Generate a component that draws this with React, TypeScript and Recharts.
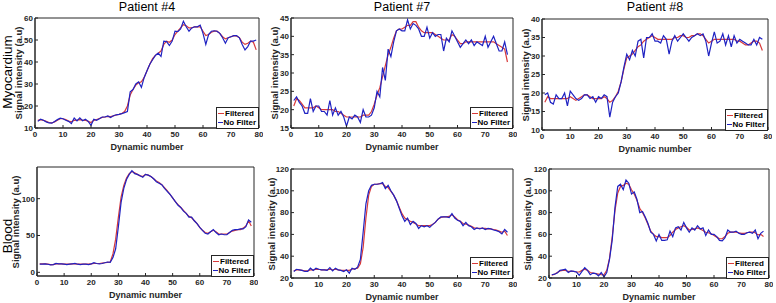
import React from "react";
import { LineChart, Line, XAxis, YAxis, ReferenceArea, Legend } from "recharts";

const FONT = '"Liberation Sans", Arial, Helvetica, sans-serif';
const RED = "#d83a3a";
const BLUE = "#1f22c2";
const INK = "#262626";

const xTicks = [0, 10, 20, 30, 40, 50, 60, 70, 80];
const titles = ["Patient #4", "Patient #7", "Patient #8"];
const rowLabels = ["Myocardium", "Blood"];
const seriesNames = ["Filtered", "No Filter"];

// Patient #4, myocardium
const p4MyoFiltered = [
  13.5, 13.8, 13.5, 13, 12.5, 12.3, 12.8, 13.5, 14.2, 14.2,
  13.8, 13.2, 12.8, 13.5, 13.6, 13.8, 13.6, 13.5, 13, 12.5,
  13.5, 13.8, 14.3, 14.8, 15, 15.3, 15.2, 15.5, 15.9, 16.2,
  16.6, 17.5, 20, 25, 27.5, 29.5, 30.5, 31, 33, 36,
  39, 41.5, 43, 44, 45, 48, 49.5, 49, 50, 52.5,
  54, 55.5, 57, 56.5, 55.5, 55.5, 56, 56, 56, 54,
  52, 52.5, 53.5, 54, 54, 53, 51.5, 50.5, 51, 51.5,
  52, 51.8, 51, 49, 48, 48.5, 49.5, 49, 45.5,
];
const p4MyoRaw = [
  13, 14, 13.5, 12.8, 12.3, 12.2, 13, 13.8, 14.5, 14.2,
  13.5, 13, 12, 14.5, 13.2, 14.6, 13.3, 14, 13, 11.2,
  14, 13.5, 14.2, 15, 15, 15.5, 14.8, 15.6, 16, 16.2,
  16.5, 17, 17.5, 26.5, 27.5, 30, 31, 28.5, 33, 36,
  39, 41, 43, 44, 42.5, 49.5, 49.3, 47.5, 49.5, 54,
  53.8, 55, 58.5, 56, 54, 55.5, 56, 56, 56.8, 53,
  48, 52.5, 54, 54.2, 54, 53, 51, 48.5, 51, 51.5,
  52, 52, 51, 48, 45.5, 47, 49.5, 49.5, 50,
];

// Patient #7, myocardium
const p7MyoFiltered = [
  21, 23, 22.5, 21.5, 20.5, 20.5, 20.5, 20.5, 21, 20.5,
  20, 20, 20, 20, 20, 19.5, 19.5, 19, 18.5, 18,
  18, 18, 18, 18, 18, 18.5, 18.5, 18.5, 19.5, 21.5,
  24, 26, 29, 32, 35, 37, 39.5, 41.5, 42, 42,
  42.5, 43, 43, 44, 44, 42.5, 41.5, 41, 41, 41,
  41, 40.5, 40, 39.5, 39, 39, 39, 40.5, 40, 39,
  38, 38, 38.5, 38.5, 38.5, 38.5, 38.5, 38.5, 38.5, 38.5,
  38.5, 38.5, 38.5, 38, 37.5, 37, 36.5, 33,
];
const p7MyoRaw = [
  22.5, 23.5, 22, 21, 19, 19, 23, 19.5, 21, 21,
  19.5, 19.5, 18.5, 22.5, 18.5, 20.5, 18.5, 19.5, 18, 15.5,
  18, 17.5, 18.5, 18, 16.5, 20, 18, 18, 18.5, 20.5,
  25, 23.5, 31.5, 28, 36.5, 34.5, 38.5, 41.5, 42, 41.5,
  41.5, 44.5, 42, 43.5, 43, 42, 40, 40, 42.5, 39.5,
  41, 40, 40.5, 40.5, 36, 39.5, 38.5, 41.5, 40, 38.5,
  37, 38, 39, 38, 39, 37.5, 38.5, 38, 37.5, 40,
  37, 38.5, 40, 38, 36, 36, 38.5, 35,
];

// Patient #8, myocardium
const p8MyoFiltered = [
  17.5, 19, 18.5, 18.5, 18.5, 18.5, 18.5, 18.5, 18.5, 19,
  18.5, 18, 18.5, 19, 19.5, 19.5, 19, 18.5, 18.5, 18.5,
  18.5, 19, 18.5, 17.5, 18, 19, 20.5, 23, 26.5, 29.5,
  30, 30.5, 31.5, 32.5, 33, 34, 34.5, 35, 35.5, 35,
  34.5, 34.5, 34.5, 34.5, 34.5, 34.5, 35, 35, 35.5, 35.5,
  35, 35, 35.5, 35.5, 36, 36, 35.5, 34.5, 33.5, 34,
  34.5, 34.5, 34.5, 34.5, 34.5, 34.5, 34.5, 34.5, 34, 34,
  33.5, 33, 33, 33.5, 34, 34, 33.5, 31.5,
];
const p8MyoRaw = [
  19.5, 20, 17.5, 17, 19.5, 18.5, 18.5, 20, 16.5, 20.5,
  19.5, 18.5, 18, 18.5, 19.5, 19.5, 18.5, 19, 17.5, 19,
  18.5, 19.5, 19, 13.5, 17.5, 19, 20, 23, 27, 30.5,
  29, 31.5, 30, 34, 34.5, 29.5, 35, 35, 36, 34,
  34, 33.5, 35.5, 34.5, 30.5, 34, 35.5, 34, 35, 36,
  35, 34, 35, 35.5, 36, 35.5, 36, 34, 30, 33.5,
  36.5, 33.5, 34, 36, 33, 35.5, 32.5, 35.5, 33.5, 34.5,
  34, 33.5, 33, 33, 34.5, 33, 35, 34.5,
];

// Patient #4, blood
const p4BloodFiltered = [
  11.5, 11.5, 11.5, 11, 10.5, 10.5, 11.5, 11.5, 11.5, 11,
  11, 11, 11.5, 11.5, 11, 11, 11, 11, 11, 11.5,
  12, 12, 12, 12.5, 13, 13.5, 14, 25, 45, 75,
  102, 118, 128, 134, 137, 135, 133, 131, 130, 133,
  132, 130, 127, 124, 122, 119, 115, 111, 106, 101,
  96, 92, 88, 84, 80, 76, 74, 70, 66, 61,
  57, 54, 53, 55, 57, 55, 52, 52, 52, 52,
  54, 56, 57, 58, 58, 60, 63, 70, 63,
];
const p4BloodRaw = [
  11, 11, 11.5, 11, 10, 10.5, 12, 11.5, 11.5, 11,
  10.5, 11, 11.5, 12, 11, 10.5, 11, 11, 10.5, 11.5,
  13, 12, 11.5, 12, 13, 14, 13.5, 20, 32, 62,
  95, 114, 126, 133, 138, 134, 133, 131, 129, 133,
  132, 130, 127, 123, 121, 119, 114, 110, 106, 101,
  96, 91, 88, 83, 80, 75, 75, 70, 66, 61,
  57, 53, 52, 55, 58, 54, 51, 52, 51, 51,
  54, 57, 58, 58, 59, 59, 62, 71, 68,
];

// Patient #7, blood
const p7BloodFiltered = [
  26.5, 27.5, 27.5, 27, 26.5, 26.5, 27.5, 27.5, 28, 28,
  27.5, 27.5, 27.5, 28, 27.5, 28, 27.5, 27, 27, 27,
  27, 28, 28.5, 29, 33, 48, 75, 96, 104, 106,
  106, 106.5, 106.5, 104, 103, 99.5, 96, 91, 85, 79,
  75, 73.5, 72, 71, 69.5, 68, 68, 68, 68, 68,
  69, 71, 74, 75.5, 76, 76, 76.5, 78, 76, 73.5,
  72, 70, 69.5, 68.5, 67.5, 66, 65.5, 65.5, 65.5, 65.5,
  65, 65, 64.5, 64, 63, 62, 63, 59,
];
const p7BloodRaw = [
  26, 28, 27.5, 27, 26, 26, 29, 27, 29, 28,
  27.5, 27.5, 27, 29.5, 26.5, 29, 27.5, 27, 26, 27.5,
  24.5, 29, 28, 30, 37, 62, 88, 100, 105, 106,
  106, 106.5, 107.5, 102, 105, 100, 96, 91, 84, 77,
  72, 75, 69, 72, 70, 65.5, 68, 67, 68, 66.5,
  69, 71, 74, 76, 76, 76, 75.5, 79, 75, 73,
  72, 68, 71, 68, 67, 64.5, 66, 65, 66, 64.5,
  65.5, 65, 64, 63.5, 62.5, 60.5, 64.5, 62,
];

// Patient #8, blood
const p8BloodFiltered = [
  22.5, 23.5, 25, 26.5, 27, 27, 26, 26, 26, 25.5,
  25.5, 27, 28, 27, 25, 24.5, 24, 23.5, 23, 23,
  27, 38, 58, 82, 98, 104, 105, 107, 106, 101,
  97, 91, 84, 80, 75, 69, 63, 60, 58, 58,
  57, 57, 57, 59, 62, 64.5, 66, 67, 68, 66.5,
  64, 64.5, 65, 66, 65, 63.5, 62, 61.5, 60.5, 59,
  57.5, 56, 56, 58, 61, 62, 62, 62, 61.5, 61,
  61, 61.5, 62, 62, 61.5, 59.5, 60, 58,
];
const p8BloodRaw = [
  23, 23.5, 24.5, 27, 27.5, 28, 25, 26.5, 26, 25.5,
  22.5, 26, 29.5, 27, 23, 24.5, 24, 22, 25, 21,
  25, 37, 55, 85, 104, 106, 101, 110, 107, 97,
  99, 92, 80, 81, 76, 70, 62, 60, 54, 60,
  54.5, 54.5, 55, 63, 58, 66, 67, 64, 71, 66,
  62, 66, 64, 68, 65, 66, 59, 64, 60, 60,
  58, 54.5, 54, 57, 64, 62, 62, 63, 61, 60,
  60, 61.5, 62, 61, 64, 56, 61, 63,
];

const panels = [
  { title: titles[0], filt: p4MyoFiltered, raw: p4MyoRaw, dom: [10, 60], yt: [10, 20, 30, 40, 50, 60], box: [35, 18, 224, 110], yl: 16 },
  { title: titles[1], filt: p7MyoFiltered, raw: p7MyoRaw, dom: [15, 45], yt: [15, 20, 25, 30, 35, 40, 45], box: [291, 18, 222, 110], yl: 16 },
  { title: titles[2], filt: p8MyoFiltered, raw: p8MyoRaw, dom: [10, 40], yt: [10, 15, 20, 25, 30, 35, 40], box: [542, 19, 226, 111], yl: 16 },
  { title: "", filt: p4BloodFiltered, raw: p4BloodRaw, dom: [-5, 143], yt: [0, 50, 100], box: [37, 167, 217, 109], yl: 21 },
  { title: "", filt: p7BloodFiltered, raw: p7BloodRaw, dom: [20, 120], yt: [20, 40, 60, 80, 100, 120], box: [291, 169, 222, 109], yl: 19 },
  { title: "", filt: p8BloodFiltered, raw: p8BloodRaw, dom: [20, 120], yt: [20, 40, 60, 80, 100, 120], box: [549, 169, 220, 109], yl: 21 },
];

const YW = 30;
const MT = 4;
const MR = 4;
const XH = 16;
const TICK = { fontSize: 8, fontWeight: 700, fill: INK, fontFamily: FONT };

const LegendBox = ({ payload }: any) => (
  <div style={{ border: `1px solid ${INK}`, background: "#fff", padding: "1px 2px 1px 1px", fontFamily: FONT, fontSize: 8, fontWeight: 700, lineHeight: "9px", color: "#000" }}>
    {(payload || []).map((p: any) => (
      <div key={p.value} style={{ display: "flex", alignItems: "center", whiteSpace: "nowrap" }}>
        <span style={{ display: "inline-block", width: 6, borderTop: `1.5px solid ${p.color}`, marginRight: 1 }} />
        {p.value}
      </div>
    ))}
  </div>
);

function Panel({ p }: { p: (typeof panels)[number] }) {
  const [left, top, w, h] = p.box;
  const data = p.raw.map((v, i) => ({ x: i + 1, raw: v, filt: p.filt[i] }));
  return (
    <>
      <div style={{ position: "absolute", left: left - YW, top: top - MT }}>
        <LineChart width={w + YW + MR} height={h + MT + XH} data={data} margin={{ top: MT, right: MR, left: 0, bottom: 0 }}>
          <XAxis dataKey="x" type="number" domain={[0, 80]} ticks={xTicks} interval={0} height={XH}
            tickSize={-3} tickMargin={6} axisLine={{ stroke: INK }} tickLine={{ stroke: INK }} tick={TICK} allowDataOverflow />
          <YAxis type="number" domain={p.dom} ticks={p.yt} interval={0} width={YW}
            tickSize={-3} tickMargin={5} axisLine={{ stroke: INK }} tickLine={{ stroke: INK }} tick={TICK} allowDataOverflow />
          <ReferenceArea x1={0} x2={80} y1={p.dom[0]} y2={p.dom[1]} fill="none" stroke={INK} strokeWidth={1} ifOverflow="visible" />
          <Line dataKey="filt" name={seriesNames[0]} type="linear" stroke={RED} strokeWidth={1.2} dot={false} isAnimationActive={false} />
          <Line dataKey="raw" name={seriesNames[1]} type="linear" stroke={BLUE} strokeWidth={1.2} dot={false} isAnimationActive={false} />
          <Legend content={<LegendBox />} layout="vertical" align="center" verticalAlign="middle"
            wrapperStyle={{ left: YW + w - 43, top: MT + h - 21, width: 43 }} />
        </LineChart>
      </div>
      {p.title && (
        <div style={{ position: "absolute", left, width: w, top: 0, textAlign: "center", fontFamily: FONT, fontSize: 12.5, lineHeight: "14px", color: "#000" }}>{p.title}</div>
      )}
      <div style={{ position: "absolute", left: left, width: w, top: top + h + 14, textAlign: "center", fontFamily: FONT, fontSize: 9, lineHeight: "11px", fontWeight: 700, color: INK }}>Dynamic number</div>
      <div style={{ position: "absolute", left: left - p.yl - 60, top: top + h / 2 - 6, width: 120, height: 12, textAlign: "center", transform: "rotate(-90deg)", fontFamily: FONT, fontSize: 9.5, fontWeight: 700, color: INK, lineHeight: "12px", whiteSpace: "nowrap" }}>Signal intensity (a.u)</div>
    </>
  );
}

export default function App() {
  return (
    <div style={{ position: "absolute", left: 0, top: 0, width: 776, height: 303, background: "#fff", overflow: "hidden" }}>
      {panels.map((p, i) => <Panel key={i} p={p} />)}
      <div style={{ position: "absolute", left: 8 - 60, top: 72 - 7, width: 120, height: 14, textAlign: "center", transform: "rotate(-90deg)", fontFamily: FONT, fontSize: 13.5, color: "#000", lineHeight: "14px" }}>{rowLabels[0]}</div>
      <div style={{ position: "absolute", left: 8 - 60, top: 236 - 7, width: 120, height: 14, textAlign: "center", transform: "rotate(-90deg)", fontFamily: FONT, fontSize: 13.5, color: "#000", lineHeight: "14px" }}>{rowLabels[1]}</div>
    </div>
  );
}
